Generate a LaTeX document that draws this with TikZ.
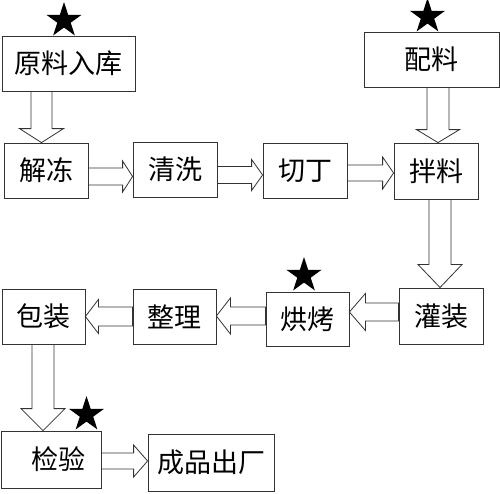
\documentclass[tikz,border=0pt]{standalone}
\usepackage{fontspec}
\newfontfamily\cjk{Noto Sans CJK SC}
\usetikzlibrary{arrows,calc,positioning,shapes}
\tikzstyle{box}=[
  draw=black!80,
  line width=.8pt,
  minimum height=55pt,
  inner sep=0pt,
  font=\cjk\fontsize{27}{30}\selectfont,
]
\tikzstyle{starmark}=[
  star,
  star points=5,
  star point ratio=2.618,
  fill=black,
  minimum size=37pt,
  inner sep=0pt,
]
\tikzset{
  x=1pt, y=-1pt,
  % hollow block arrow: shaft half width, head half width, head length
  fat/.style n args={3}{
    draw=black!80,
    line width=.8pt,
    to path={
      ($(\tikztostart)!#1!-90:(\tikztotarget)$)
      -- ($($(\tikztotarget)!#3!(\tikztostart)$)!#1!-90:(\tikztotarget)$)
      -- ($($(\tikztotarget)!#3!(\tikztostart)$)!#2!-90:(\tikztotarget)$)
      -- (\tikztotarget)
      -- ($($(\tikztotarget)!#3!(\tikztostart)$)!#2!90:(\tikztotarget)$)
      -- ($($(\tikztotarget)!#3!(\tikztostart)$)!#1!90:(\tikztotarget)$)
      -- ($(\tikztostart)!#1!90:(\tikztotarget)$)
      -- cycle
    }},
}

\begin{document}
\begin{tikzpicture}
  \useasboundingbox (0,0) rectangle (500,493);

  \node[box, minimum width=133pt] (yuanliao) at (68.5,63.5) {原料入库};
  \node[box, minimum width=135pt] (peiliao) at (431.5,59.5) {配料};
  \node[box, minimum width=84pt] (jiedong) at (46,170.5) {解冻};
  \node[box, minimum width=84pt] (qingxi) at (175,169.5) {清洗};
  \node[box, minimum width=84pt] (qieding) at (305,170.5) {切丁};
  \node[box, minimum width=84pt, minimum height=56pt] (banliao) at (436,171) {拌料};
  \node[box, minimum width=84pt, minimum height=56pt, line width=1pt] (guanzhuang) at (441,316) {灌装};
  \node[box, minimum width=83pt, minimum height=54pt] (hongkao) at (307.5,319) {烘烤};
  \node[box, minimum width=83pt] (zhengli) at (174.5,316.5) {整理};
  \node[box, minimum width=83pt] (baozhuang) at (43.5,316.5) {包装};
  \node[box, minimum width=100pt, minimum height=57pt] (jianyan) at (51,459.5) {\hspace{14pt}检验};
  \node[box, minimum width=126pt, minimum height=57pt] (chuchang) at (211,462.5) {成品出厂};

  \node[starmark] (s1) at (64,20.5) {};
  \node[starmark] (s2) at (427.5,16.5) {};
  \node[starmark] (s3) at (304,275.5) {};
  \node[starmark] (s4) at (86.5,414.5) {};

  \draw[fat={10.5pt}{22pt}{14pt}] ([xshift=-27pt]yuanliao.south) to ([xshift=-4.5pt]jiedong.north);
  \draw[fat={8.5pt}{15.5pt}{10pt}] ([yshift=-6pt]jiedong.east) to ([yshift=-7pt]qingxi.west);
  \draw[fat={8.5pt}{15.5pt}{11pt}] ([yshift=-5.5pt]qingxi.east) to ([yshift=-4.5pt]qieding.west);
  \draw[fat={8pt}{16pt}{11pt}] ([yshift=-2.5pt]qieding.east) to ([yshift=-2pt]banliao.west);
  \draw[fat={11pt}{21.5pt}{13pt}] ([xshift=6.5pt]peiliao.south) to ([xshift=2pt]banliao.north);
  \draw[fat={11pt}{22pt}{23pt}] ([xshift=4pt]banliao.south) to ([xshift=-1pt]guanzhuang.north);
  \draw[fat={9pt}{18.5pt}{16pt}] ([yshift=4pt]guanzhuang.west) to ([yshift=7pt]hongkao.east);
  \draw[fat={9pt}{18pt}{14pt}] ([yshift=3pt]hongkao.west) to ([yshift=.5pt]zhengli.east);
  \draw[fat={9.5pt}{17pt}{13pt}] (zhengli.west) to (baozhuang.east);
  \draw[fat={11pt}{22pt}{22pt}] ([xshift=-.5pt]baozhuang.south) to ([xshift=-8pt]jianyan.north);
  \draw[fat={8pt}{16pt}{14pt}] ([yshift=-1.5pt]jianyan.east) to ([yshift=1.5pt]chuchang.west);
\end{tikzpicture}
\end{document}
